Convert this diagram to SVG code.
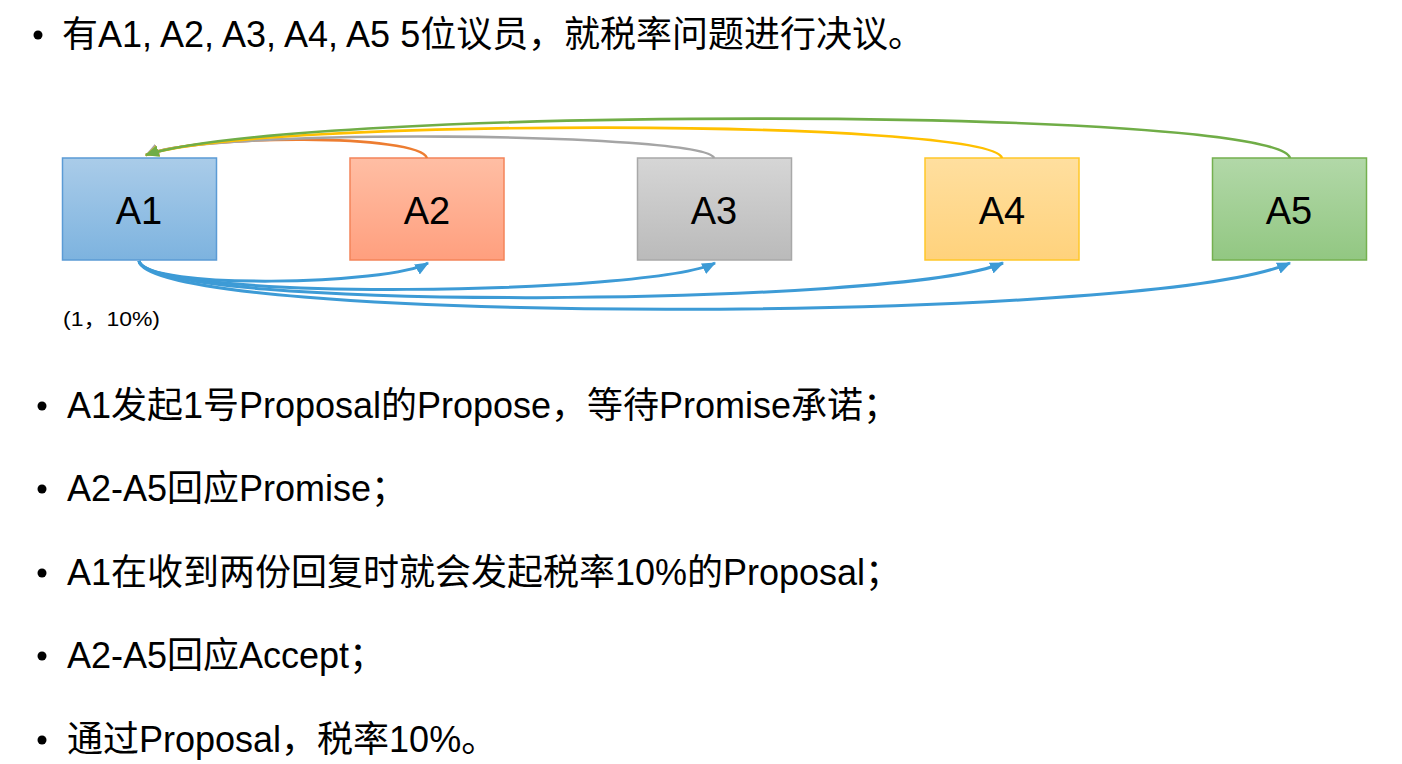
<svg xmlns="http://www.w3.org/2000/svg" width="1402" height="764" viewBox="0 0 1402 764">
<style>
.t{font-family:"Liberation Sans","Noto Sans CJK SC",sans-serif;fill:#000}
.txt{font-size:36px}
.lbl{font-size:38px;text-anchor:middle}
.note{font-size:21px}
.box{stroke-width:1.5}
.top{fill:none;stroke-width:2.6}
.bot{fill:none;stroke:#3d9bd6;stroke-width:3}
</style>
<defs>
<linearGradient id="g1" x1="0" y1="0" x2="0" y2="1"><stop offset="0" stop-color="#aacce9"/><stop offset="1" stop-color="#7db3df"/></linearGradient>
<linearGradient id="g2" x1="0" y1="0" x2="0" y2="1"><stop offset="0" stop-color="#ffbea4"/><stop offset="1" stop-color="#ff9f7e"/></linearGradient>
<linearGradient id="g3" x1="0" y1="0" x2="0" y2="1"><stop offset="0" stop-color="#d6d6d6"/><stop offset="1" stop-color="#bababa"/></linearGradient>
<linearGradient id="g4" x1="0" y1="0" x2="0" y2="1"><stop offset="0" stop-color="#ffdf9f"/><stop offset="1" stop-color="#ffd27c"/></linearGradient>
<linearGradient id="g5" x1="0" y1="0" x2="0" y2="1"><stop offset="0" stop-color="#b2d8a8"/><stop offset="1" stop-color="#92c782"/></linearGradient>
<marker id="mb" viewBox="0 0 12 10" refX="11" refY="5" markerWidth="14" markerHeight="12" markerUnits="userSpaceOnUse" orient="auto"><path d="M0,0 L12,5 L0,10 Z" fill="#3d9bd6"/></marker>
<marker id="mo" viewBox="0 0 12 10" refX="11" refY="5" markerWidth="14" markerHeight="12" markerUnits="userSpaceOnUse" orient="auto"><path d="M0,0 L12,5 L0,10 Z" fill="#ed7d31"/></marker>
<marker id="mg" viewBox="0 0 12 10" refX="11" refY="5" markerWidth="14" markerHeight="12" markerUnits="userSpaceOnUse" orient="auto"><path d="M0,0 L12,5 L0,10 Z" fill="#a5a5a5"/></marker>
<marker id="my" viewBox="0 0 12 10" refX="11" refY="5" markerWidth="14" markerHeight="12" markerUnits="userSpaceOnUse" orient="auto"><path d="M0,0 L12,5 L0,10 Z" fill="#ffc000"/></marker>
<marker id="mgr" viewBox="0 0 12 10" refX="11" refY="5" markerWidth="14" markerHeight="12" markerUnits="userSpaceOnUse" orient="auto"><path d="M0,0 L12,5 L0,10 Z" fill="#70ad47"/></marker>
</defs>
<rect width="1402" height="764" fill="#ffffff"/>

<g id="title">
<circle cx="38" cy="35" r="4.5" fill="#000"/>
<text class="t txt" x="62" y="47" textLength="862" lengthAdjust="spacingAndGlyphs">有A1, A2, A3, A4, A5 5位议员，就税率问题进行决议。</text>
</g>

<g id="node-A1"><rect class="box" x="62.5" y="158" width="154" height="102" fill="url(#g1)" stroke="#5b9bd5"/><text class="t lbl" x="139" y="224">A1</text></g>
<g id="node-A2"><rect class="box" x="350" y="158" width="154" height="102" fill="url(#g2)" stroke="#f4845a"/><text class="t lbl" x="427" y="224">A2</text></g>
<g id="node-A3"><rect class="box" x="637.5" y="158" width="154" height="102" fill="url(#g3)" stroke="#a8a8a8"/><text class="t lbl" x="714" y="224">A3</text></g>
<g id="node-A4"><rect class="box" x="925" y="158" width="154" height="102" fill="url(#g4)" stroke="#ffc729"/><text class="t lbl" x="1002" y="224">A4</text></g>
<g id="node-A5"><rect class="box" x="1212.5" y="158" width="154" height="102" fill="url(#g5)" stroke="#74b04f"/><text class="t lbl" x="1289" y="224">A5</text></g>

<g id="connectors">
<path class="top" stroke="#ed7d31" marker-end="url(#mo)" d="M427,158 C420,134 200,134 146,155"/>
<path class="top" stroke="#a5a5a5" marker-end="url(#mg)" d="M714,158 C705,132 200,128 146,155"/>
<path class="top" stroke="#ffc000" marker-end="url(#my)" d="M1002,158 C990,118 250,118 146,155"/>
<path class="top" stroke="#70ad47" marker-end="url(#mgr)" d="M1290,158 C1275,106 300,106 146,155"/>
<path class="bot" marker-end="url(#mb)" d="M139,261 C145,290 390,285 428,263"/>
<path class="bot" marker-end="url(#mb)" d="M139,261 C150,302 650,295 715,263"/>
<path class="bot" marker-end="url(#mb)" d="M139,261 C150,312 900,307 1003,263"/>
<path class="bot" marker-end="url(#mb)" d="M139,261 C150,325 1150,325 1290,263"/>
</g>

<g id="note">
<text class="t note" x="63" y="326" textLength="97" lengthAdjust="spacingAndGlyphs">(1，10%)</text>
</g>

<g id="bullets">
<circle cx="42" cy="406" r="4.5" fill="#000"/>
<text class="t txt" x="67" y="418" textLength="832" lengthAdjust="spacingAndGlyphs">A1发起1号Proposal的Propose，等待Promise承诺；</text>
<circle cx="42" cy="489" r="4.5" fill="#000"/>
<text class="t txt" x="67" y="501">A2-A5回应Promise；</text>
<circle cx="42" cy="573" r="4.5" fill="#000"/>
<text class="t txt" x="67" y="585" textLength="834" lengthAdjust="spacingAndGlyphs">A1在收到两份回复时就会发起税率10%的Proposal；</text>
<circle cx="42" cy="656" r="4.5" fill="#000"/>
<text class="t txt" x="67" y="668">A2-A5回应Accept；</text>
<circle cx="42" cy="740" r="4.5" fill="#000"/>
<text class="t txt" x="67" y="752">通过Proposal，税率10%。</text>
</g>
</svg>
